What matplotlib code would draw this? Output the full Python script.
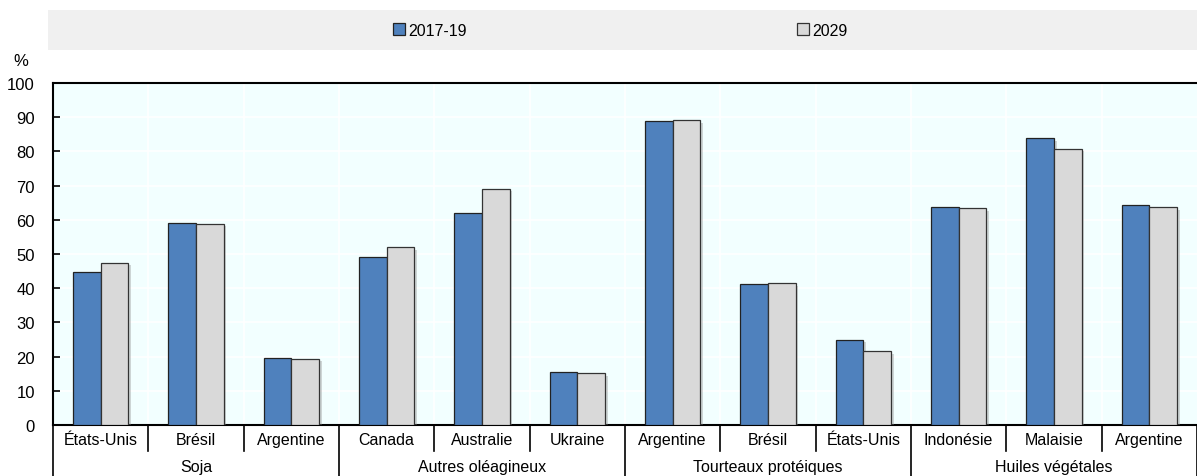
import matplotlib
matplotlib.use("Agg")
import matplotlib.pyplot as plt
import matplotlib.patheffects as pe
from matplotlib.patches import Rectangle, Patch
import numpy as np

plt.rcParams['font.family'] = ['Liberation Sans', 'DejaVu Sans']

groups = ["Soja", "Autres oléagineux", "Tourteaux protéiques", "Huiles végétales"]
countries = ["États-Unis", "Brésil", "Argentine",
             "Canada", "Australie", "Ukraine",
             "Argentine", "Brésil", "États-Unis",
             "Indonésie", "Malaisie", "Argentine"]
group_sizes = [3, 3, 3, 3]
v_2017_19 = [44.8, 59.2, 19.5, 49.0, 62.0, 15.5, 88.8, 41.3, 25.0, 63.8, 83.8, 64.3]
v_2029 = [47.5, 58.9, 19.4, 52.1, 69.1, 15.2, 89.1, 41.5, 21.5, 63.5, 80.8, 63.8]
series_names = ["2017-19", "2029"]
yticks = [0, 10, 20, 30, 40, 50, 60, 70, 80, 90, 100]

W, H = 1197, 477
fig = plt.figure(figsize=(W / 100, H / 100), dpi=100)
ax = fig.add_axes([53 / W, 1 - 426 / H, 1 - 53 / W, (426 - 84) / H])

blue = '#4F81BD'
grey = '#D9D9D9'
n = len(countries)
x = np.arange(n) + 0.5
bw = 0.29
shadow = [pe.SimplePatchShadow(offset=(2, -2), shadow_rgbFace='#888888', alpha=0.35), pe.Normal()]
ax.bar(x - bw / 2, v_2017_19, width=bw, color=blue, edgecolor='#222222', linewidth=0.9,
       zorder=3, path_effects=shadow)
ax.bar(x + bw / 2, v_2029, width=bw, color=grey, edgecolor='#333333', linewidth=0.9,
       zorder=3, path_effects=shadow)

ax.set_xlim(0, n)
ax.set_ylim(0, 100)
ax.set_facecolor('#F2FFFF')
ax.set_yticks(yticks)
ax.set_yticklabels([str(t) for t in yticks], fontsize=12)
ax.tick_params(axis='y', direction='in', length=5, width=1.2, pad=13)
for t in yticks[1:-1]:
    ax.axhline(t, color='white', linewidth=1.2, zorder=1)
for i in range(1, n):
    ax.axvline(i, color='white', linewidth=1.2, zorder=1)

ax.set_xticks(x)
ax.set_xticklabels(countries, fontsize=11.5)
ax.tick_params(axis='x', length=0, pad=5)

for s in ['left', 'bottom', 'top']:
    ax.spines[s].set_color('black')
    ax.spines[s].set_linewidth(1.5)
ax.spines['right'].set_visible(False)

# separators below axis
trans = ax.get_xaxis_transform()
pos = 0
bounds = [0]
for g in group_sizes:
    pos += g
    bounds.append(pos)
for i in range(0, n + 1):
    if i in bounds:
        ax.plot([i, i], [0, -51 / 342], transform=trans, color='black', lw=1.2, clip_on=False)
    else:
        ax.plot([i, i], [0, -26 / 342], transform=trans, color='black', lw=1.2, clip_on=False)
for gi, g in enumerate(groups):
    c = (bounds[gi] + bounds[gi + 1]) / 2
    ax.text(c, -42 / 342, g, transform=trans, ha='center', va='center', fontsize=11.5)

# legend band
fig.patches.append(Rectangle((48 / W, 1 - 51 / H), 1 - 48 / W, 40 / H, transform=fig.transFigure,
                             facecolor='#F0F0F0', edgecolor='none', zorder=0))
h1 = Patch(facecolor=blue, edgecolor='#222222', linewidth=0.9)
h2 = Patch(facecolor=grey, edgecolor='#333333', linewidth=0.9)
fig.legend([h1], [series_names[0]], loc='center left', bbox_to_anchor=(393 / W, 1 - 31 / H),
           frameon=False, fontsize=11.5, handlelength=0.75, handleheight=0.75, handletextpad=0.2,
           borderpad=0, borderaxespad=0)
fig.legend([h2], [series_names[1]], loc='center left', bbox_to_anchor=(797 / W, 1 - 31 / H),
           frameon=False, fontsize=11.5, handlelength=0.75, handleheight=0.75, handletextpad=0.2,
           borderpad=0, borderaxespad=0)

fig.text(21 / W, 1 - 62 / H, "%", ha='center', va='center', fontsize=12)

fig.savefig("out.png", dpi=100)
